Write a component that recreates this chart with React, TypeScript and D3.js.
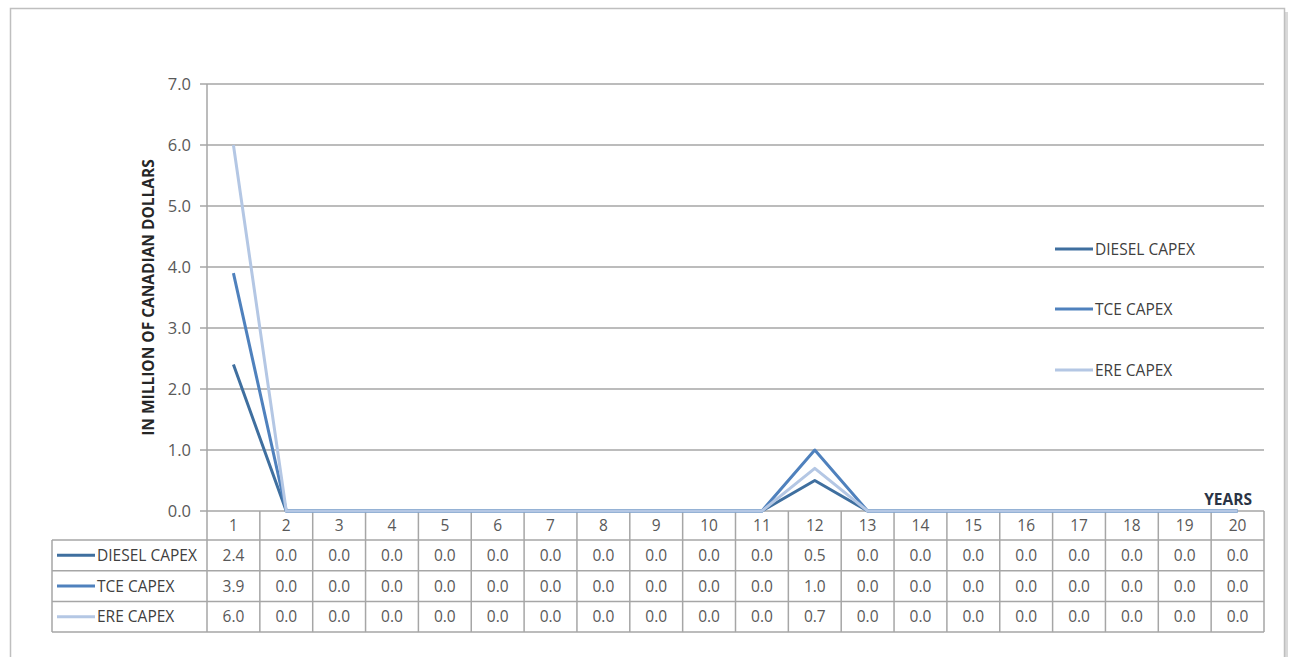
import React from "react";
import * as d3 from "d3";

// Capital expenditure per year, million CAD
const years = d3.range(1, 21).map(String);
const dieselCapex = [2.4, 0, 0, 0, 0, 0, 0, 0, 0, 0, 0, 0.5, 0, 0, 0, 0, 0, 0, 0, 0];
const tceCapex = [3.9, 0, 0, 0, 0, 0, 0, 0, 0, 0, 0, 1.0, 0, 0, 0, 0, 0, 0, 0, 0];
const ereCapex = [6.0, 0, 0, 0, 0, 0, 0, 0, 0, 0, 0, 0.7, 0, 0, 0, 0, 0, 0, 0, 0];
const seriesNames = ["DIESEL CAPEX", "TCE CAPEX", "ERE CAPEX"];
const seriesColors = ["#3F6F9F", "#4F81BD", "#B4C7E4"];
const yTicks = [0, 1, 2, 3, 4, 5, 6, 7];

const W = 1290;
const H = 657;
const FONT = "'Open Sans', 'Noto Sans', sans-serif";
const GRID = "#A6A6A6";
const TEXT = "#595959";
const FS = 15.5;

export default function App() {
  const series = [dieselCapex, tceCapex, ereCapex].map((values, i) => ({
    name: seriesNames[i],
    color: seriesColors[i],
    values,
  }));

  const left = 207;
  const right = 1264;
  const top = 84;
  const bottom = 511;

  const x = d3.scaleBand<string>().domain(years).range([left, right]).padding(0);
  const bw = x.bandwidth();
  const cx = (c: string) => (x(c) as number) + bw / 2;
  const y = d3.scaleLinear().domain([0, 7]).range([bottom, top]);

  const line = d3
    .line<number>()
    .x((_, i) => cx(years[i]))
    .y((v) => y(v));

  const fmt = d3.format(".1f");

  // data table rows
  const headTop = bottom;
  const headBottom = 540;
  const rowH = 30.7;
  const tableLeft = 52;
  const rowTop = (i: number) => headBottom + i * rowH;
  const tableBottom = rowTop(3);

  const legendY = [249, 309, 370];

  return (
    <div style={{ position: "fixed", left: 0, top: 0, width: W, height: H, background: "#fff" }}>
      <svg width={W} height={H} style={{ display: "block" }} fontFamily={FONT}>
        <rect x={0} y={0} width={W} height={H} fill="#fff" />
        {/* frame with a soft right shadow */}
        <line x1={1286.5} y1={12} x2={1286.5} y2={H} stroke="#D9D9D9" strokeWidth={3} />
        <rect x={10.5} y={8.5} width={1274} height={H + 20} fill="#fff" stroke="#BFBFBF" strokeWidth={1.5} />

        {/* horizontal gridlines and tick marks */}
        {yTicks.map((t) => (
          <g key={t}>
            <line x1={200} x2={right} y1={y(t)} y2={y(t)} stroke={GRID} strokeWidth={1.5} />
            <text
              x={191}
              y={y(t)}
              dy="0.35em"
              textAnchor="end"
              fontSize={FS + 1}
              fill={TEXT}
            >
              {fmt(t)}
            </text>
          </g>
        ))}
        <line x1={left} x2={left} y1={top} y2={bottom} stroke={GRID} strokeWidth={1.5} />

        <text
          transform={`translate(154,${(top + bottom) / 2}) rotate(-90)`}
          textAnchor="middle"
          fontSize={15.5}
          fontWeight="bold"
          fill="#262626"
        >
          IN MILLION OF CANADIAN DOLLARS
        </text>

        <text x={1252} y={505} textAnchor="end" fontSize={15.5} fontWeight="bold" fill="#2B3445">
          YEARS
        </text>

        {/* data table */}
        <g stroke={GRID} strokeWidth={1.5} fill="none">
          {years.map((c) => (
            <line key={c} x1={x(c) as number} x2={x(c) as number} y1={headTop} y2={tableBottom} />
          ))}
          <line x1={right} x2={right} y1={headTop} y2={tableBottom} />
          <line x1={tableLeft} x2={tableLeft} y1={headBottom} y2={tableBottom} />
          {[0, 1, 2, 3].map((i) => (
            <line key={i} x1={tableLeft} x2={right} y1={rowTop(i)} y2={rowTop(i)} />
          ))}
        </g>
        {years.map((c) => (
          <text
            key={c}
            x={cx(c)}
            y={(headTop + headBottom) / 2}
            dy="0.38em"
            textAnchor="middle"
            fontSize={FS}
            fill={TEXT}
          >
            {c}
          </text>
        ))}
        {series.map((s, si) => {
          const ym = rowTop(si) + rowH / 2;
          return (
            <g key={s.name}>
              <line x1={57} x2={95} y1={ym} y2={ym} stroke={s.color} strokeWidth={3} />
              <text x={97} y={ym} dy="0.36em" fontSize={FS} fill="#404040">
                {s.name}
              </text>
              {s.values.map((v, i) => (
                <text
                  key={i}
                  x={cx(years[i])}
                  y={ym}
                  dy="0.36em"
                  textAnchor="middle"
                  fontSize={FS}
                  fill={TEXT}
                >
                  {fmt(v)}
                </text>
              ))}
            </g>
          );
        })}

        {/* series lines */}
        {series.map((s) => (
          <path
            key={s.name}
            d={line(s.values) as string}
            fill="none"
            stroke={s.color}
            strokeWidth={3}
            strokeLinejoin="round"
          />
        ))}

        {/* legend */}
        {series.map((s, i) => (
          <g key={s.name}>
            <line x1={1055} x2={1093} y1={legendY[i]} y2={legendY[i]} stroke={s.color} strokeWidth={3} />
            <text x={1095} y={legendY[i]} dy="0.36em" fontSize={FS} fill="#404040">
              {s.name}
            </text>
          </g>
        ))}
      </svg>
    </div>
  );
}
